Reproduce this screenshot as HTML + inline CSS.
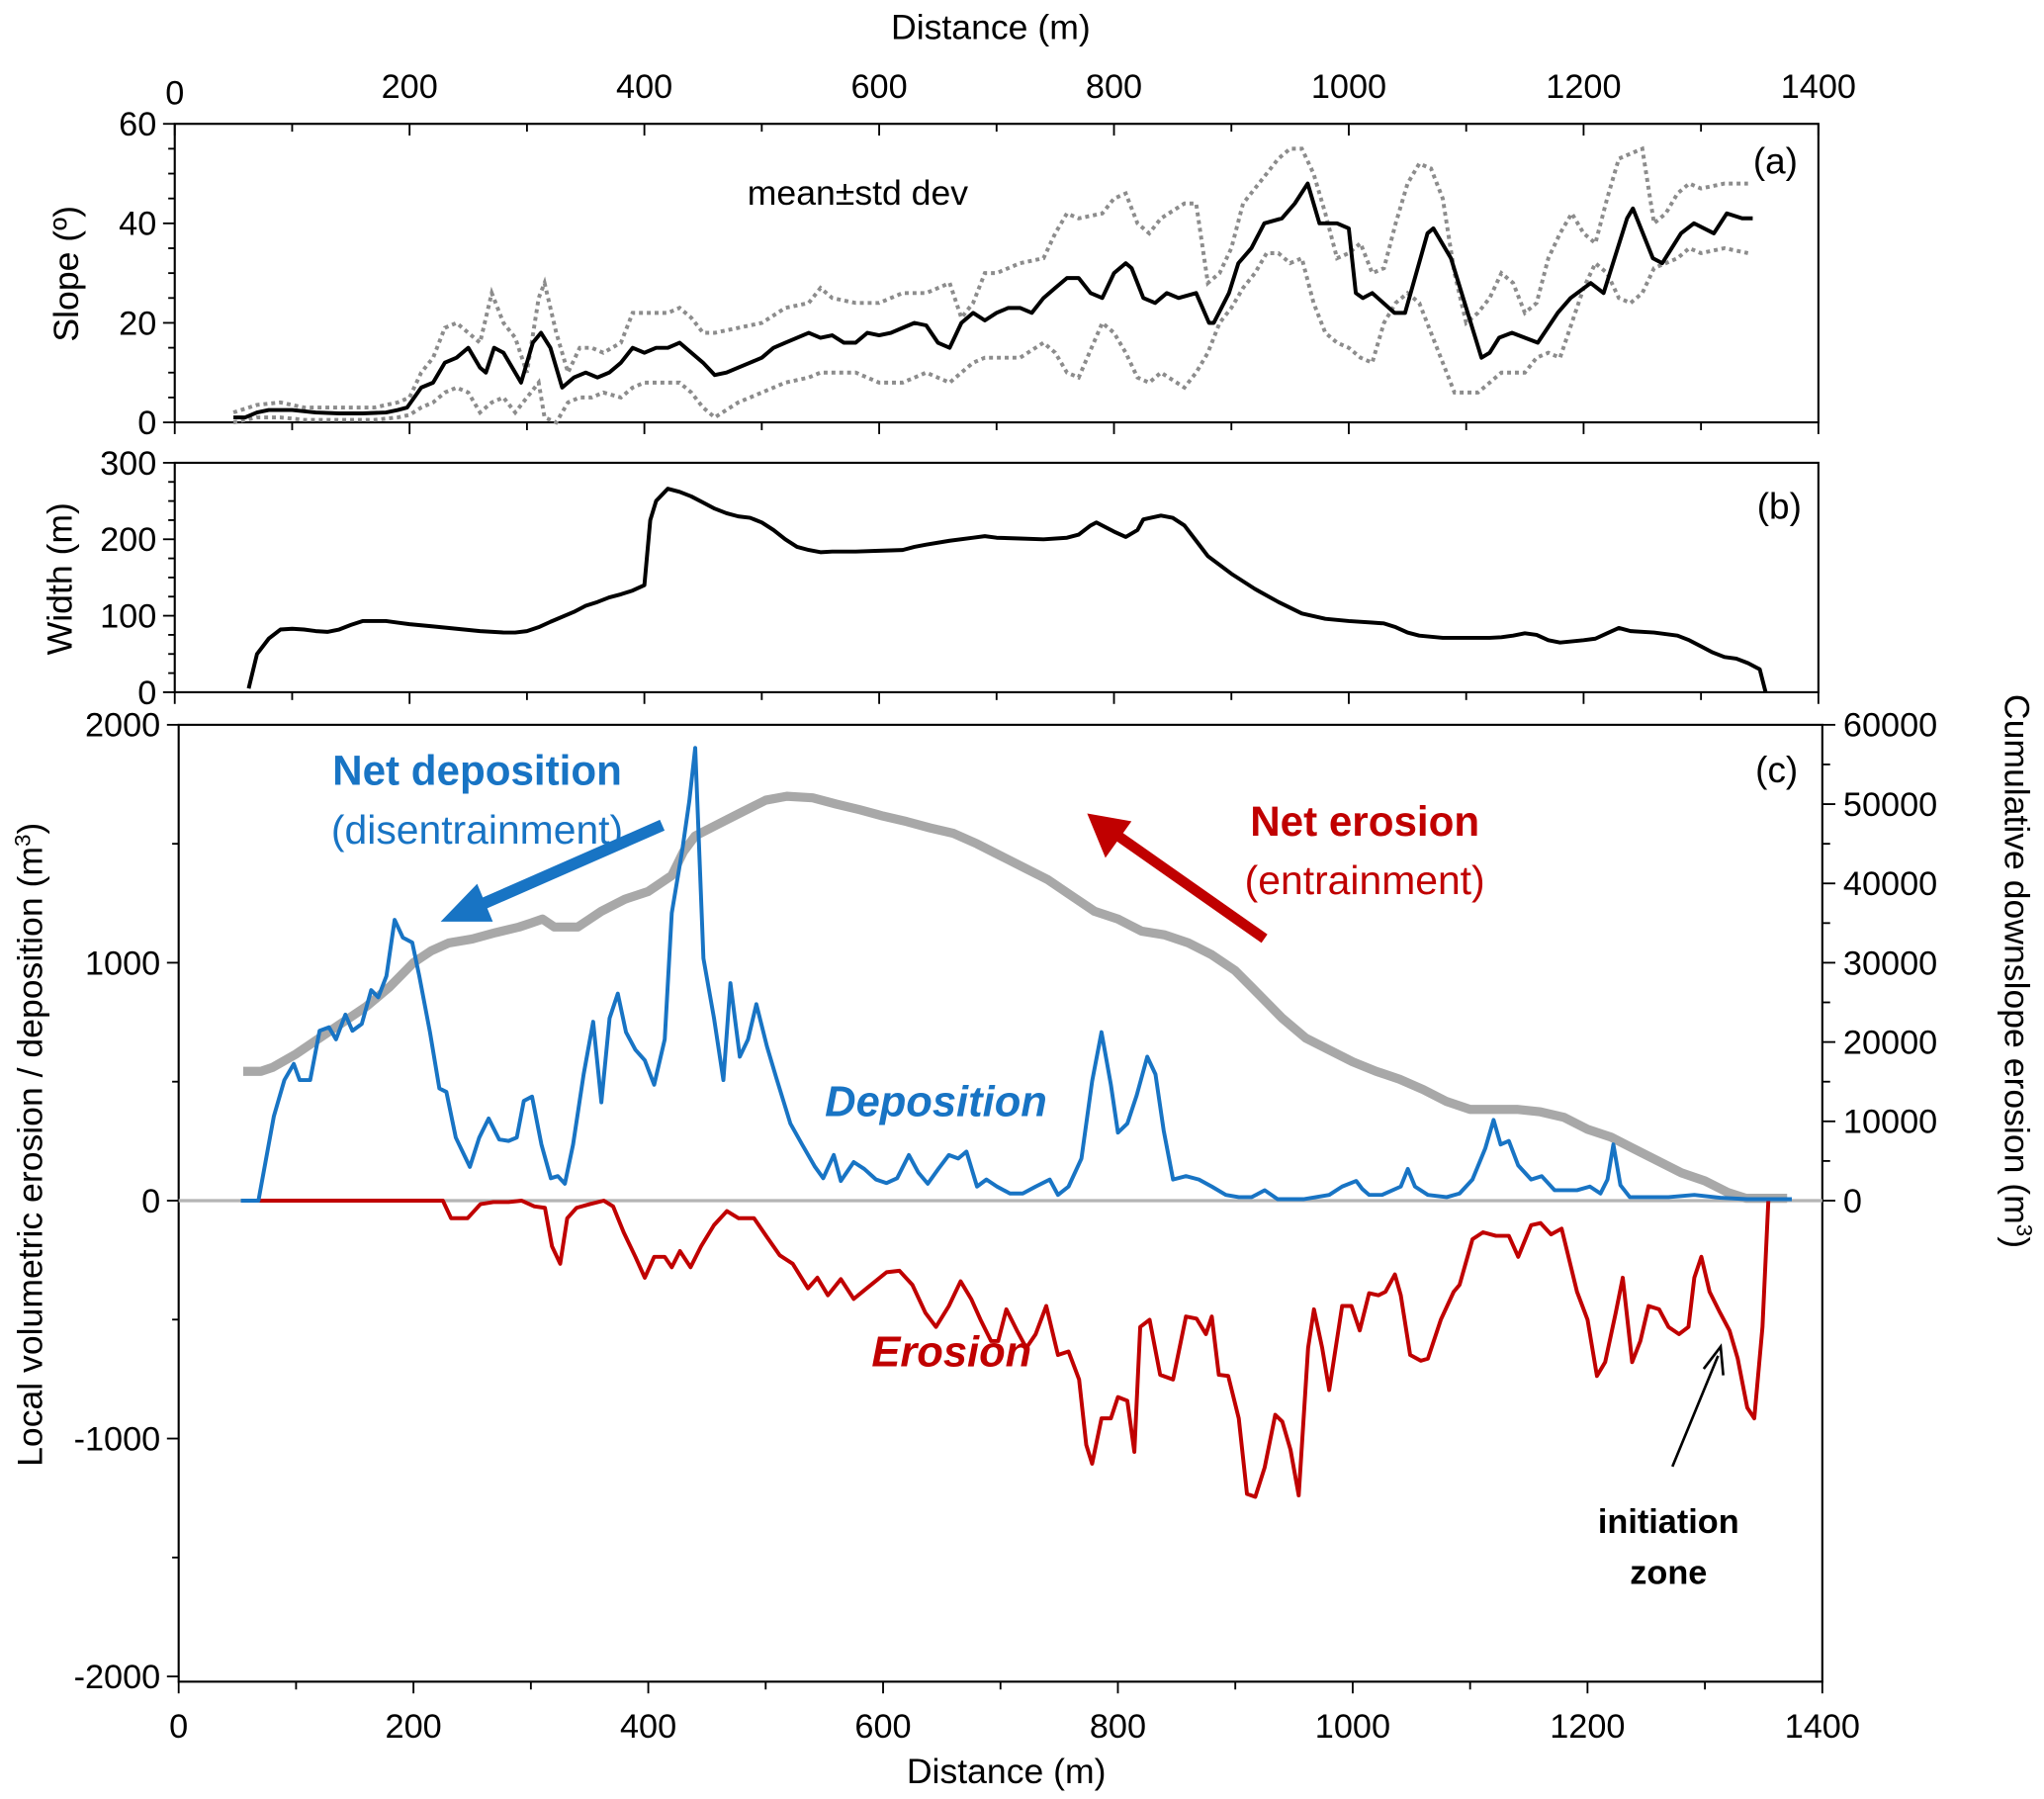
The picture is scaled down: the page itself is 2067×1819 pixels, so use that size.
<!DOCTYPE html>
<html><head><meta charset="utf-8"><style>
html,body{margin:0;padding:0;background:#fff}
svg{display:block}
text{font-family:"Liberation Sans",sans-serif}
</style></head><body>
<svg id="fig" width="2067" height="1819" viewBox="0 0 1568 1380" xmlns="http://www.w3.org/2000/svg">
<g id="axes"></g>
<g id="marks"></g>
<g>
<text x="760" y="30" font-size="27" text-anchor="middle">Distance (m)</text>
<text x="772" y="1368" font-size="27" text-anchor="middle">Distance (m)</text>
<text transform="translate(60,210) rotate(-90)" font-size="27" text-anchor="middle">Slope (º)</text>
<text transform="translate(55,444) rotate(-90)" font-size="27" text-anchor="middle">Width (m)</text>
<text transform="translate(32,878) rotate(-90)" font-size="27" text-anchor="middle">Local volumetric erosion / deposition (m<tspan baseline-shift="super" font-size="17">3</tspan>)</text>
<text transform="translate(1538,745) rotate(90)" font-size="27" text-anchor="middle">Cumulative downslope erosion (m<tspan baseline-shift="super" font-size="17">3</tspan>)</text>
<text x="658" y="157" font-size="27" text-anchor="middle">mean±std dev</text>
<text x="1362" y="133" font-size="28" text-anchor="middle">(a)</text>
<text x="1365" y="398" font-size="28" text-anchor="middle">(b)</text>
<text x="1363" y="600" font-size="28" text-anchor="middle">(c)</text>
<text x="366" y="602" font-size="32" font-weight="bold" fill="#1874c4" text-anchor="middle">Net deposition</text>
<text x="366" y="647" font-size="31" fill="#1874c4" text-anchor="middle">(disentrainment)</text>
<text x="1047" y="641" font-size="32" font-weight="bold" fill="#c00000" text-anchor="middle">Net erosion</text>
<text x="1047" y="686" font-size="31" fill="#c00000" text-anchor="middle">(entrainment)</text>
<text x="718" y="856" font-size="33" font-weight="bold" font-style="italic" fill="#1874c4" text-anchor="middle">Deposition</text>
<text x="730" y="1048" font-size="33" font-weight="bold" font-style="italic" fill="#c00000" text-anchor="middle">Erosion</text>
<text x="1280" y="1176" font-size="26" font-weight="bold" text-anchor="middle">initiation</text>
<text x="1280" y="1215" font-size="26" font-weight="bold" text-anchor="middle">zone</text>
<g>
<line x1="508" y1="633" x2="362" y2="697" stroke="#1874c4" stroke-width="9"/>
<polygon points="338,707 366,678 378,707" fill="#1874c4"/>
</g>
<g>
<line x1="970" y1="720" x2="856" y2="640" stroke="#c00000" stroke-width="8"/>
<polygon points="834,624 868,630 848,658" fill="#c00000"/>
</g>
<g>
<line x1="1283" y1="1125" x2="1318" y2="1040" stroke="#000" stroke-width="2"/>
<polyline points="1307,1050 1320,1033 1322,1055" fill="none" stroke="#000" stroke-width="2"/>
</g>
</g>
</svg>
<script>
// ---------- data ----------
const meanDist=[50,60,70,80,100,120,140,160,180,190,198,210,220,230,240,250,260,265,272,280,290,295,305,312,320,330,340,350,360,370,380,390,400,410,420,430,440,450,460,470,480,490,500,510,520,530,540,550,560,570,580,590,600,610,620,630,640,650,660,670,680,690,700,710,720,730,740,750,760,770,780,790,800,810,815,825,835,845,855,870,881,885,898,906,917,928,943,954,965,975,990,1000,1006,1012,1020,1039,1048,1067,1072,1087,1113,1120,1128,1139,1150,1161,1178,1189,1206,1217,1237,1242,1259,1267,1283,1294,1311,1322,1335,1344];
const meanVal=[1,1,2,2.5,2.5,2,1.8,1.8,2,2.5,3,7,8,12,13,15,11,10,15,14,10,8,16,18,15,7,9,10,9,10,12,15,14,15,15,16,14,12,9.5,10,11,12,13,15,16,17,18,17,17.5,16,16,18,17.5,18,19,20,19.5,16,15,20,22,20.5,22,23,23,22,25,27,29,29,26,25,30,32,31,25,24,26,25,26,20,20,26,32,35,40,41,44,48,40,40,39,26,25,26,22,22,38,39,33,13,14,17,18,17,16,22,25,28,26,41,43,33,32,38,40,38,42,41,41];
const sdDist=[50,70,90,110,130,150,170,190,200,210,220,230,240,250,260,270,280,290,300,310,315,325,335,345,355,365,380,390,400,420,430,440,450,460,480,500,520,540,550,560,580,600,620,640,660,670,680,690,700,720,740,750,760,770,790,800,810,820,830,840,860,870,880,890,900,910,920,930,940,950,960,970,980,990,1000,1010,1020,1030,1040,1050,1060,1070,1080,1090,1100,1110,1120,1130,1140,1150,1160,1170,1180,1190,1200,1210,1220,1230,1240,1250,1260,1270,1280,1290,1300,1320,1340];
const upperVal=[2,3.5,4,3,3,3,3,4,5,10,13,19,20,18,16,26,20,17,10,25,28,18,10,15,15,14,16,22,22,22,23,21,18,18,19,20,23,24,27,25,24,24,26,26,28,21,24,30,30,32,33,38,42,41,42,45,46,40,38,41,44,44,28,30,35,44,47,50,53,55,55,50,42,33,34,36,30,31,40,48,52,51,45,30,20,22,25,30,28,22,24,33,38,42,38,36,45,53,54,55,40,42,46,48,47,48,48];
const lowerVal=[0,1,1,0.5,0.5,0.5,0.5,1,1.5,3,4,6,7,6,2,4,5,2,5,8,1,0,4,5,5,6,5,7,8,8,8,6,3,1,4,6,8,9,10,10,10,8,8,10,8,10,12,13,13,13,16,14,10,9,20,18,14,9,8,10,7,10,14,20,23,27,30,34,34,32,33,24,18,16,15,13,12,20,24,26,24,18,12,6,6,6,8,10,10,10,13,14,13,20,27,32,30,25,24,26,31,32,33,35,34,35,34];
const widthDist=[63,70,80,90,100,110,120,130,140,150,160,170,180,190,200,220,240,260,280,290,300,310,320,340,350,360,370,380,390,400,405,410,420,430,440,450,460,470,480,490,500,510,520,530,540,550,560,580,600,620,630,640,660,680,690,700,720,740,760,770,780,785,790,800,810,820,825,840,850,860,870,880,900,920,940,960,980,1000,1020,1030,1040,1050,1060,1080,1100,1120,1130,1140,1150,1160,1170,1180,1200,1210,1220,1230,1240,1260,1280,1290,1300,1310,1320,1330,1340,1350,1355];
const widthVal=[5,50,70,82,83,82,80,79,82,88,93,93,93,91,89,86,83,80,78,78,80,85,92,105,113,118,124,128,133,140,225,250,266,262,256,248,240,234,230,228,222,212,200,190,186,183,184,184,185,186,190,193,198,202,204,202,201,200,202,206,218,222,218,210,203,212,226,231,228,218,198,178,155,135,118,103,96,93,91,90,85,78,74,71,71,71,72,74,77,75,68,65,68,70,77,84,80,78,74,68,60,52,46,44,38,30,0];
const cumDist=[55,70,80,100,120,140,160,180,200,215,230,250,270,290,300,310,320,340,350,360,380,400,420,430,440,460,480,500,518,540,560,580,600,620,640,660,680,700,720,740,760,780,800,820,840,860,880,900,920,940,960,980,1000,1020,1040,1060,1080,1100,1120,1140,1160,1180,1200,1220,1240,1260,1280,1300,1320,1335,1370];
const cumVal=[16300,16300,16800,18500,20500,22500,24500,27000,30000,31500,32500,33000,33800,34500,35000,35500,34500,34500,35500,36500,38000,39000,41000,44000,46000,47500,49000,50500,51000,50800,50000,49300,48500,47800,47000,46300,45000,43500,42000,40500,38500,36500,35500,34000,33500,32500,31000,29000,26000,23000,20500,19000,17500,16300,15300,14000,12500,11500,11500,11500,11200,10500,9000,8000,6500,5000,3500,2500,1000,300,300];
const depDist=[53,68,81,90,98,103,112,120,128,134,142,148,156,164,170,177,184,191,199,205,214,222,228,236,248,256,264,273,281,288,294,301,309,317,323,329,336,345,353,360,367,374,381,389,397,405,414,420,429,435,440,447,456,464,470,478,485,492,501,509,521,531,542,549,558,564,575,584,594,603,612,622,630,638,647,656,664,671,680,688,697,708,719,730,742,749,758,769,778,786,794,800,808,816,825,832,839,847,858,869,880,892,903,914,925,936,958,980,991,1003,1008,1014,1025,1041,1047,1053,1064,1080,1091,1102,1113,1120,1126,1133,1141,1152,1161,1172,1191,1202,1211,1217,1222,1228,1236,1269,1291,1313,1336,1374];
const depVal=[0,0,354,507,575,507,507,714,729,678,782,714,743,885,855,944,1180,1106,1085,944,708,472,457,265,142,265,345,257,251,265,419,437,236,94,103,71,236,531,752,413,767,870,708,634,590,487,678,1209,1475,1681,1903,1018,767,507,914,605,678,826,649,516,324,236,142,94,192,83,162,133,89,74,94,192,118,71,133,192,177,206,59,89,59,30,30,59,89,24,59,177,502,708,487,286,324,443,605,531,295,89,103,89,59,24,15,15,44,6,6,24,59,83,50,24,24,59,133,59,24,15,30,89,221,339,236,251,148,89,103,44,44,59,30,89,236,65,15,15,24,12,6,6];
const eroDist=[68,225,232,246,257,268,281,292,303,312,318,325,331,339,350,362,370,379,389,397,405,414,420,427,436,445,456,467,477,490,501,512,523,536,544,553,564,575,586,603,614,625,636,645,656,666,675,683,692,698,705,714,722,730,739,749,758,767,773,778,786,794,800,808,814,819,827,836,847,858,867,875,880,886,894,903,910,917,925,934,940,947,954,962,967,974,980,991,999,1006,1014,1022,1028,1036,1041,1049,1058,1064,1075,1086,1091,1102,1111,1122,1133,1141,1152,1160,1169,1178,1191,1200,1208,1215,1224,1230,1238,1245,1252,1261,1269,1278,1286,1291,1297,1304,1313,1321,1328,1336,1342,1349,1354];
const eroVal=[0,0,-74,-74,-15,-6,-6,0,-24,-30,-192,-265,-74,-30,-15,0,-24,-133,-236,-324,-236,-236,-280,-212,-280,-192,-103,-44,-74,-74,-153,-230,-265,-369,-324,-398,-330,-413,-369,-301,-295,-354,-472,-531,-443,-339,-413,-501,-590,-590,-457,-546,-619,-561,-443,-649,-634,-752,-1027,-1106,-915,-915,-826,-841,-1056,-531,-501,-732,-752,-487,-496,-561,-487,-732,-737,-915,-1233,-1245,-1121,-900,-929,-1047,-1239,-619,-457,-619,-796,-443,-443,-546,-389,-398,-383,-310,-398,-649,-673,-664,-501,-383,-354,-162,-133,-148,-148,-236,-103,-94,-142,-118,-383,-501,-737,-679,-472,-324,-679,-590,-443,-457,-531,-561,-531,-324,-236,-383,-472,-546,-664,-870,-915,-531,0];
const topTicks=[0,200,400,600,800,1000,1200,1400];
const slopeTicks=[0,20,40,60];
const widthTicks=[0,100,200,300];
const leftCTicks=[-2000,-1000,0,1000,2000];
const rightCTicks=[0,10000,20000,30000,40000,50000,60000];
// ---------- scales ----------
const xa=d=>134+d*1261/1400;
const xc=d=>137+d*1261/1400;
const ya=v=>324-v*229/60;
const yb=v=>531-v*176/300;
const yc=v=>921-v*365/2000;
const ycr=v=>921-v*365/60000;
const NS="http://www.w3.org/2000/svg";
const axes=document.getElementById('axes'), marks=document.getElementById('marks');
function mk(tag,attrs,parent,txt){const e=document.createElementNS(NS,tag);for(const k in attrs)e.setAttribute(k,attrs[k]);if(txt!==undefined)e.textContent=txt;parent.appendChild(e);return e;}
function pts(xs,ys,fx,fy){return xs.map((d,i)=>fx(d).toFixed(1)+','+fy(ys[i]).toFixed(1)).join(' ');}
let f;
f=mk('rect',{x:134,y:95,width:1261,height:229,fill:'none',stroke:'#000','stroke-width':1.6},axes);


f=mk('rect',{x:134,y:355,width:1261,height:176,fill:'none',stroke:'#000','stroke-width':1.6},axes);


f=mk('rect',{x:137,y:556,width:1261,height:734,fill:'none',stroke:'#000','stroke-width':1.6},axes);


for(let d=0;d<=1400;d+=100){
  const maj=d%200===0, L=maj?9:6;
  mk('line',{x1:xa(d),y1:95,x2:xa(d),y2:95+L,stroke:'#000','stroke-width':1.4},axes);
  mk('line',{x1:xa(d),y1:324,x2:xa(d),y2:324+L,stroke:'#000','stroke-width':1.4},axes);
  mk('line',{x1:xa(d),y1:531,x2:xa(d),y2:531+L,stroke:'#000','stroke-width':1.4},axes);
  mk('line',{x1:xc(d),y1:1290,x2:xc(d),y2:1290+L,stroke:'#000','stroke-width':1.4},axes);
}
topTicks.forEach(d=>{
  const t=mk('text',{x:xa(d),y:d===0?80:75,'font-size':26,'text-anchor':'middle'},axes,String(d));
  
  
  const b=mk('text',{x:xc(d),y:1333,'font-size':26,'text-anchor':'middle'},axes,String(d));
  
  
});
for(let v=0;v<=60;v+=5){mk('line',{x1:134,y1:ya(v),x2:134-(v%20===0?9:5),y2:ya(v),stroke:'#000','stroke-width':1.4},axes);}
slopeTicks.forEach(v=>{const t=mk('text',{x:120,y:ya(v)+9,'font-size':26,'text-anchor':'end'},axes,String(v));
  
  });
for(let v=0;v<=300;v+=25){mk('line',{x1:134,y1:yb(v),x2:134-(v%100===0?9:5),y2:yb(v),stroke:'#000','stroke-width':1.4},axes);}
widthTicks.forEach(v=>{const t=mk('text',{x:120,y:yb(v)+9,'font-size':26,'text-anchor':'end'},axes,String(v));
  
  });
for(let v=-2000;v<=2000;v+=500){mk('line',{x1:137,y1:yc(v),x2:137-(v%1000===0?9:5),y2:yc(v),stroke:'#000','stroke-width':1.4},axes);}
leftCTicks.forEach(v=>{const t=mk('text',{x:123,y:yc(v)+9,'font-size':26,'text-anchor':'end'},axes,String(v));
  
  });
for(let v=0;v<=60000;v+=5000){mk('line',{x1:1398,y1:ycr(v),x2:1398+(v%10000===0?10:6),y2:ycr(v),stroke:'#000','stroke-width':1.4},axes);}
rightCTicks.forEach(v=>{const t=mk('text',{x:1414,y:ycr(v)+9,'font-size':26,'text-anchor':'start'},axes,String(v));
  
  });
const zero=mk('line',{x1:137,y1:yc(0),x2:1398,y2:yc(0),stroke:'#b4b4b4','stroke-width':2.5},marks);


let s;
s=mk('polyline',{points:pts(sdDist,upperVal,xa,ya),fill:'none',stroke:'#8c8c8c','stroke-width':3,'stroke-dasharray':'3 3'},marks);


s=mk('polyline',{points:pts(sdDist,lowerVal,xa,ya),fill:'none',stroke:'#8c8c8c','stroke-width':3,'stroke-dasharray':'3 3'},marks);


s=mk('polyline',{points:pts(meanDist,meanVal,xa,ya),fill:'none',stroke:'#000','stroke-width':3,'stroke-linejoin':'round'},marks);


s=mk('polyline',{points:pts(widthDist,widthVal,xa,yb),fill:'none',stroke:'#000','stroke-width':3,'stroke-linejoin':'round'},marks);


s=mk('polyline',{points:pts(cumDist,cumVal,xc,ycr),fill:'none',stroke:'#a8a8a8','stroke-width':7,'stroke-linejoin':'round'},marks);


s=mk('polyline',{points:pts(eroDist,eroVal,xc,yc),fill:'none',stroke:'#c00000','stroke-width':3,'stroke-linejoin':'round'},marks);


s=mk('polyline',{points:pts(depDist,depVal,xc,yc),fill:'none',stroke:'#1874c4','stroke-width':3,'stroke-linejoin':'round'},marks);


</script>
</body></html>
